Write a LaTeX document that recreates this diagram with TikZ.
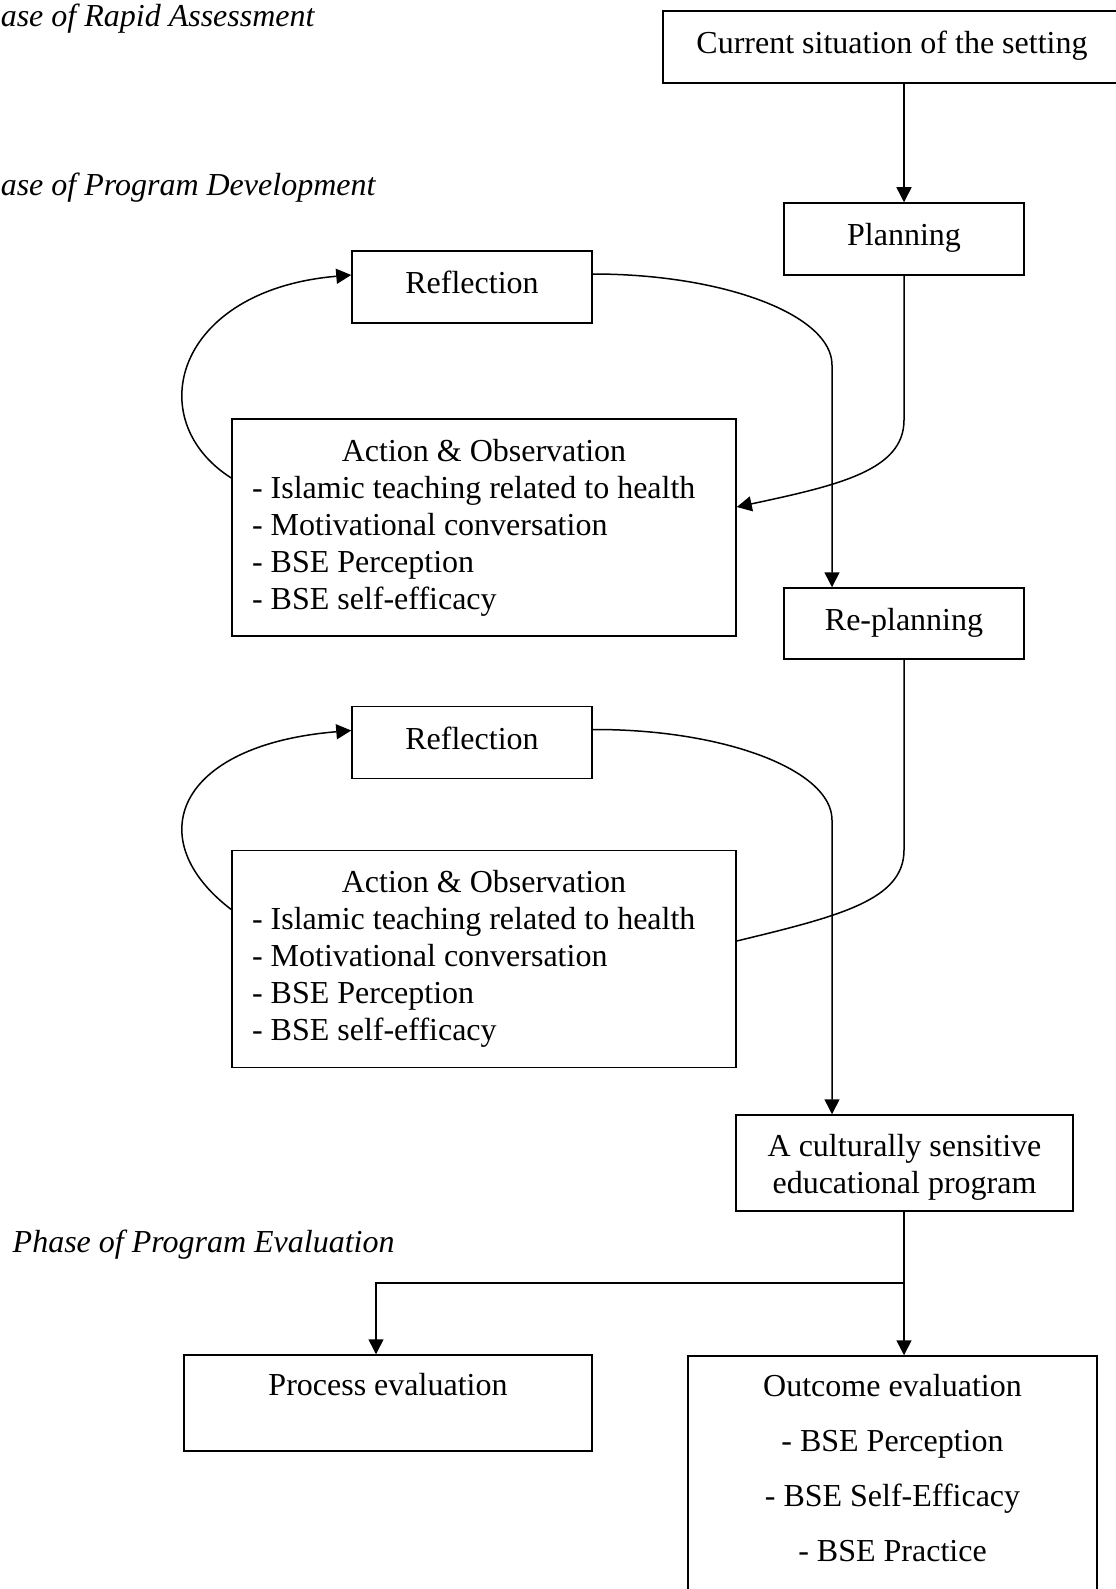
\documentclass[tikz,border=0pt]{standalone}
\usepackage{fontspec}
\setmainfont{Liberation Serif}
\usetikzlibrary{arrows.meta}

\begin{document}
\begin{tikzpicture}[x=0.5pt, y=-0.5pt, >={Triangle[length=7.5pt, width=7.5pt]}, line width=0.75pt,
	every node/.style={font=\fontsize{16}{18.5}\selectfont},
	box/.style={draw, line width=0.75pt, text height=11pt, text depth=4.5pt},
	actbox/.style={draw, line width=0.75pt, text width=232pt, inner xsep=10pt, minimum height=108.5pt, align=flush left},
	phase/.style={anchor=west, inner sep=0pt, font=\fontsize{16}{18.5}\selectfont\itshape}]
		\useasboundingbox (0, 0) rectangle (1115, 1589);
		
		\node[phase] (ph1) at (0, 19) {ase of Rapid Assessment};
		\node[phase] (ph2) at (0, 187.5) {ase of Program Development};
		\node[phase] (ph3) at (12, 1245) {Phase of Program Evaluation};
		
		\node[box, minimum width=229pt, minimum height=36pt] (cur) at (892, 47) {Current situation of the setting};
		\node[box, minimum width=120pt, minimum height=36pt] (plan) at (904, 239) {Planning};
		\node[box, minimum width=120pt, minimum height=36pt] (refl1) at (472, 287) {Reflection};
		\node[actbox] (act1) at (484, 527.5) {\makebox[\linewidth]{Action \& Observation}\\
			- Islamic teaching related to health\\
			- Motivational conversation\\
			- BSE Perception\\
			- BSE self-efficacy};
		
		\node[box, minimum width=120pt, minimum height=35.5pt] (replan) at (904, 623.5) {Re-planning};
		\node[box, minimum width=120pt, minimum height=36pt] (refl2) at (472, 742.5) {Reflection};
		\node[actbox] (act2) at (484, 959) {\makebox[\linewidth]{Action \& Observation}\\
			- Islamic teaching related to health\\
			- Motivational conversation\\
			- BSE Perception\\
			- BSE self-efficacy};
		
		\node[draw, align=center, minimum width=168.5pt, minimum height=48pt] (cult) at (904.5, 1163)
			{\rule{0pt}{15pt}A culturally sensitive\\educational program};
		\node[draw, minimum width=204pt, minimum height=48pt] (proc) at (388, 1403) {};
		\node[draw, minimum width=204.5pt, minimum height=122pt] (outc) at (892.5, 1478) {};
		\node[anchor=north, inner sep=0pt] (proctxt) at ([yshift=-9pt]proc.north) {Process evaluation};
		\node[anchor=north, inner sep=0pt, align=center, font=\fontsize{16}{27.5}\selectfont] (outctxt) at ([yshift=-9pt]outc.north)
			{Outcome evaluation\\- BSE Perception\\- BSE Self-Efficacy\\- BSE Practice};
		\coordinate (split) at (904, 1283);
		
		\draw[->] (cur.south -| plan.north) -- (plan.north);
		\draw[->] ([yshift=24.75pt]act1.west) .. controls (140, 420) and (175, 290) .. ([yshift=6pt]refl1.west);
		\draw[->] ([yshift=6.5pt]refl1.east) .. controls (724, 274) and (832, 315) .. (832, 365) -- ([xshift=-36pt]replan.north);
		\draw[->] (plan.south) -- (904, 420) .. controls (904, 470) and (840, 485) .. ([yshift=10.25pt]act1.east);
		
		\draw[->] ([yshift=24.75pt]act2.west) .. controls (140, 840) and (175, 745) .. ([yshift=6pt]refl2.west);
		\draw[->] ([yshift=6.5pt]refl2.east) .. controls (724, 729) and (832, 770) .. (832, 820) -- ([xshift=-36.25pt]cult.north);
		\draw (replan.south) -- (904, 850) .. controls (904, 900) and (840, 916) .. ([yshift=9pt]act2.east);
		
		\draw (cult.south -| split) -- (split);
		\draw[->] (split) -| ([xshift=-6pt]proc.north);
		\draw[->] (split) -- (split |- outc.north);
		
	\end{tikzpicture}
\end{document}
